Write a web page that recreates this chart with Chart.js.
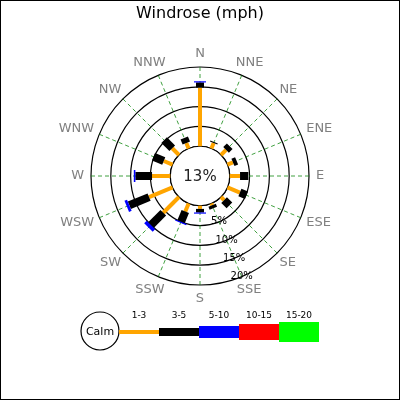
<!DOCTYPE html>
<html>
<head>
<meta charset="utf-8">
<title>Windrose (mph)</title>
<script src="https://cdn.jsdelivr.net/npm/chart.js@4"></script>
<style>
  body { margin: 0; background: #fff; }
  #wrap { position: relative; width: 400px; height: 400px; }
</style>
</head>
<body>
<div id="wrap"><canvas id="rose" width="400" height="400"></canvas></div>
<script>
// directions run clockwise from north
var directions = ['N', 'NNE', 'NE', 'ENE', 'E', 'ESE', 'SE', 'SSE',
                  'S', 'SSW', 'SW', 'WSW', 'W', 'WNW', 'NW', 'NNW'];
var speedBins = ['1-3', '3-5', '5-10', '10-15', '15-20'];

// percent of time per direction, one array per speed bin
var speed1to3   = [14.8, 1.5, 1.8, 1.5, 2.6, 3.4, 1.1, 0.5, 0.8, 2.2, 5.6, 6.4, 4.6, 2.4, 2.4, 1.5];
var speed3to5   = [1.3, 0.3, 1.3, 1.0, 2.1, 1.8, 1.9, 0.8, 0.9, 2.8, 4.4, 5.4, 4.2, 2.8, 2.9, 1.4];
var speed5to10  = [0.3, 0, 0, 0, 0, 0, 0, 0, 0.3, 0.3, 0.9, 0.7, 0.4, 0, 0, 0];
var speed10to15 = [0, 0, 0, 0, 0, 0, 0, 0, 0, 0, 0, 0, 0, 0, 0, 0];
var speed15to20 = [0, 0, 0, 0, 0, 0, 0, 0, 0, 0, 0, 0, 0, 0, 0, 0];

var calmPercent = 13;
var radialTicks = [5, 10, 15, 20];

var binColors = ['#ffa500', '#000000', '#0000ff', '#ff0000', '#00ff00'];
var binWidths = [4, 8, 12, 16, 20];
var binData = [speed1to3, speed3to5, speed5to10, speed10to15, speed15to20];

Chart.defaults.font.family = 'DejaVu Sans';

// bars are stacked along each spoke, starting at the calm circle (value 0)
var windrosePlugin = {
  id: 'windrose',
  afterDatasetsDraw: function(chart) {
    var ctx = chart.ctx;
    var scale = chart.scales.r;
    var calmR = scale.getDistanceFromCenterForValue(0);

    ctx.save();
    // calm circle covers the inner part of the spokes
    ctx.beginPath();
    ctx.arc(scale.xCenter, scale.yCenter, calmR, 0, Math.PI * 2);
    ctx.fillStyle = '#fff';
    ctx.fill();
    ctx.lineWidth = 1.2;
    ctx.strokeStyle = '#000';
    ctx.stroke();

    ctx.lineCap = 'butt';
    directions.forEach(function(dir, i) {
      var base = 0;
      chart.data.datasets.forEach(function(ds) {
        var v = ds.data[i];
        if (!v) return;
        var p0 = scale.getPointPositionForValue(i, base);
        var p1 = scale.getPointPositionForValue(i, base + v);
        ctx.beginPath();
        ctx.moveTo(p0.x, p0.y);
        ctx.lineTo(p1.x, p1.y);
        ctx.lineWidth = ds.barWidth;
        ctx.strokeStyle = ds.borderColor;
        ctx.stroke();
        base += v;
      });
    });

    ctx.textAlign = 'center';
    ctx.textBaseline = 'middle';

    ctx.fillStyle = '#222';
    ctx.font = '15px "DejaVu Sans"';
    ctx.fillText(calmPercent + '%', scale.xCenter, scale.yCenter + 1);

    // ring labels sit along the SSE spoke
    ctx.fillStyle = '#000';
    ctx.font = '10px "DejaVu Sans"';
    radialTicks.forEach(function(t) {
      var p = scale.getPointPositionForValue(7, t);
      ctx.fillText(t + '%', p.x, p.y);
    });

    // direction labels: anchored just past the outer ring, text box pushed outward
    ctx.fillStyle = '#808080';
    ctx.font = '13px "DejaVu Sans"';
    chart.data.labels.forEach(function(lbl, i) {
      var a = scale.getIndexAngle(i);
      var hw = ctx.measureText(lbl).width / 2;
      var hh = 6.5;
      var p = scale.getPointPosition(i, scale.drawingArea + 7);
      ctx.fillText(lbl, p.x + Math.sin(a) * hw, p.y - Math.cos(a) * hh);
    });

    // legend: calm circle followed by one segment per speed bin
    var lx = 100, ly = 332, lr = 19, seg = 40;
    ctx.beginPath();
    ctx.arc(lx, ly - 1, lr, 0, Math.PI * 2);
    ctx.fillStyle = '#fff';
    ctx.fill();
    ctx.lineWidth = 1.2;
    ctx.strokeStyle = '#000';
    ctx.stroke();
    ctx.fillStyle = '#000';
    ctx.font = '11px "DejaVu Sans"';
    ctx.fillText('Calm', lx, ly);

    ctx.font = '9px "DejaVu Sans"';
    chart.data.datasets.forEach(function(ds, k) {
      var x0 = lx + lr + k * seg;
      ctx.beginPath();
      ctx.moveTo(x0, ly);
      ctx.lineTo(x0 + seg, ly);
      ctx.lineWidth = ds.barWidth;
      ctx.strokeStyle = ds.borderColor;
      ctx.stroke();
      ctx.fillStyle = '#000';
      ctx.fillText(ds.label, x0 + seg / 2, ly - 16);
    });

    // figure frame
    ctx.lineWidth = 1;
    ctx.strokeStyle = '#000';
    ctx.strokeRect(0.5, 0.5, chart.width - 1, chart.height - 1);
    ctx.restore();
  }
};

var datasets = speedBins.map(function(bin, k) {
  return {
    label: bin,
    data: binData[k],
    borderColor: binColors[k],
    backgroundColor: binColors[k],
    barWidth: binWidths[k],
    showLine: false,
    fill: false,
    pointRadius: 0,
    pointHoverRadius: 0,
    borderWidth: 0
  };
});

var chart = new Chart(document.getElementById('rose'), {
  type: 'radar',
  data: { labels: directions, datasets: datasets },
  plugins: [windrosePlugin],
  options: {
    responsive: false,
    animation: false,
    layout: { padding: { left: 90, right: 90, top: 0, bottom: 114 } },
    plugins: {
      legend: { display: false },
      tooltip: { enabled: false },
      title: {
        display: true,
        text: 'Windrose (mph)',
        color: '#000',
        font: { size: 16, weight: 'normal' },
        padding: { top: 4, bottom: 43 }
      }
    },
    scales: {
      r: {
        min: -7.5,
        max: 20,
        startAngle: 0,
        afterBuildTicks: function(scale) {
          scale.ticks = [0].concat(radialTicks).map(function(v) { return { value: v }; });
        },
        ticks: { display: false },
        pointLabels: { display: false },
        grid: { circular: true, color: '#000', lineWidth: 1.2 },
        angleLines: { color: 'rgba(0,128,0,0.75)', lineWidth: 1, borderDash: [4, 3] }
      }
    }
  }
});
</script>
</body>
</html>
